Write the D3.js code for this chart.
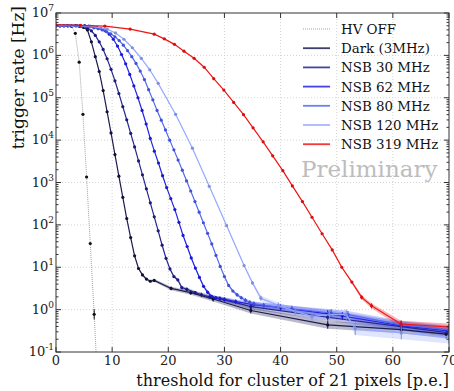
<!DOCTYPE html>
<html>
<head>
<meta charset="utf-8">
<script src="https://cdn.jsdelivr.net/npm/d3@7"></script>
<style>
  body { margin: 0; background: #fff; }
  svg { display: block; font-family: "DejaVu Serif", serif; }
</style>
</head>
<body>
<svg id="chart" width="454" height="391"></svg>
<script>
// Trigger rate vs cluster threshold, one curve per NSB level
// Each point: [threshold p.e., log10 rate in Hz, error in decades]

const hvOff = [[0,6.70,0],[0.69,6.70,0],[1.38,6.70,0],[2.06,6.70,0],[2.75,6.69,0],[3.44,6.52,0],[4.13,5.84,0],[4.8,4.61,0],[5.45,3.13,0.01],[6.1,1.56,0.03],[6.8,-0.11,0.12],[7.45,-1.85,0.3]];

const dark = [[0,6.70,0],[0.7,6.70,0],[1.4,6.70,0],[2.1,6.70,0],[2.8,6.70,0],[3.5,6.70,0],[4.2,6.69,0],[4.9,6.66,0],[5.6,6.60,0],[6.3,6.32,0],[7.0,5.97,0],[7.7,5.62,0],[8.4,5.17,0],[9.1,4.67,0],[9.8,4.17,0],[10.5,3.66,0],[11.2,3.15,0],[11.9,2.65,0],[12.6,2.15,0],[13.3,1.70,0.01],[14.0,1.27,0.02],[14.7,0.97,0.02],[15.4,0.82,0.03],[16.1,0.72,0.03],[16.8,0.67,0.03],[17.5,0.69,0.03],[20.5,0.50,0.04],[24.0,0.40,0.05],[28.0,0.25,0.06],[34.7,-0.02,0.07],[48.4,-0.36,0.09],[61.5,-0.47,0.09],[69.5,-0.58,0.10]];

const nsb30 = [[0,6.70,0],[0.7,6.70,0],[1.4,6.70,0],[2.1,6.70,0],[2.8,6.70,0],[3.5,6.70,0],[4.2,6.69,0],[4.9,6.68,0],[5.6,6.64,0],[6.3,6.58,0],[7.0,6.47,0],[7.7,6.32,0],[8.4,6.14,0],[9.1,5.92,0],[9.8,5.67,0],[10.5,5.40,0],[11.2,5.10,0],[11.9,4.79,0],[12.6,4.48,0],[13.3,4.16,0],[14.0,3.84,0],[14.7,3.51,0],[15.4,3.18,0],[16.1,2.85,0],[16.8,2.52,0],[17.5,2.19,0],[18.2,1.86,0.01],[18.9,1.52,0.01],[19.6,1.21,0.02],[20.3,0.96,0.02],[21.0,0.78,0.03],[21.7,0.70,0.03],[22.4,0.52,0.04],[23.3,0.48,0.04],[24.8,0.40,0.04],[25.9,0.35,0.05],[27.4,0.30,0.05],[29.2,0.26,0.05],[34.7,0.07,0.06],[48.4,-0.18,0.08],[61.5,-0.40,0.09],[70,-0.55,0.10]];

const nsb62 = [[0,6.70,0],[0.73,6.70,0],[1.46,6.70,0],[2.19,6.70,0],[2.92,6.70,0],[3.65,6.70,0],[4.38,6.70,0],[5.11,6.70,0],[5.84,6.69,0],[6.57,6.68,0],[7.3,6.66,0],[8.03,6.63,0],[8.76,6.58,0],[9.49,6.50,0],[10.22,6.38,0],[10.95,6.22,0],[11.68,6.02,0],[12.41,5.80,0],[13.14,5.55,0],[13.87,5.28,0],[14.6,5.00,0],[15.33,4.70,0],[16.06,4.38,0],[16.79,4.04,0],[17.52,3.74,0],[18.25,3.46,0],[18.98,3.16,0],[19.71,2.88,0],[20.44,2.62,0],[21.17,2.36,0],[21.9,2.06,0],[22.63,1.75,0.01],[23.36,1.49,0.01],[24.09,1.22,0.02],[24.82,0.98,0.02],[25.55,0.76,0.03],[26.28,0.55,0.03],[27.01,0.41,0.04],[27.74,0.31,0.04],[28.47,0.28,0.04],[30.0,0.24,0.05],[32.0,0.19,0.05],[35.2,0.12,0.06],[40.0,0.05,0.07],[48.4,-0.10,0.09],[51.0,-0.15,0.09],[61.5,-0.38,0.10],[70,-0.50,0.11]];

const nsb80 = [[0,6.70,0],[0.75,6.70,0],[1.5,6.70,0],[2.25,6.70,0],[3.0,6.70,0],[3.75,6.70,0],[4.5,6.69,0],[5.25,6.68,0],[6.0,6.67,0],[6.75,6.65,0],[7.5,6.63,0],[8.25,6.60,0],[9.0,6.56,0],[9.75,6.51,0],[10.5,6.44,0],[11.25,6.35,0],[12.0,6.24,0],[12.75,6.11,0],[13.5,5.97,0],[14.25,5.81,0],[15.0,5.63,0],[15.75,5.43,0],[16.5,5.19,0],[17.25,4.95,0],[18.0,4.70,0],[18.75,4.47,0],[19.5,4.24,0],[20.25,4.00,0],[21.0,3.77,0],[21.75,3.53,0],[22.5,3.29,0],[23.25,3.04,0],[24.0,2.80,0],[24.75,2.55,0],[25.5,2.30,0],[26.25,2.05,0],[27.0,1.80,0],[27.75,1.55,0.01],[28.5,1.28,0.01],[29.25,1.02,0.02],[30.0,0.78,0.02],[30.75,0.57,0.03],[31.5,0.44,0.03],[32.25,0.35,0.04],[33.0,0.28,0.04],[33.75,0.22,0.05],[34.5,0.17,0.05],[35.25,0.14,0.05],[37.0,0.10,0.06],[42.0,0.02,0.07],[49.0,-0.08,0.09],[52.0,-0.12,0.09],[61.5,-0.36,0.10],[70,-0.48,0.11]];

const nsb120 = [[0,6.70,0],[3.0,6.70,0],[6.1,6.69,0],[9.1,6.62,0],[10.6,6.53,0],[12.1,6.38,0],[13.6,6.18,0],[15.2,5.93,0],[16.7,5.66,0],[18.2,5.34,0],[21.3,4.61,0],[24.3,3.81,0],[27.3,2.91,0],[30.4,1.98,0.01],[33.5,1.04,0.03],[35.0,0.63,0.04],[36.5,0.27,0.06],[39.6,0.10,0.07],[42.6,-0.04,0.08],[45.6,-0.16,0.10],[48.7,-0.12,0.11],[51.7,-0.12,0.12],[53.3,-0.45,0.15],[61.5,-0.55,0.15],[70,-0.65,0.15]];

const nsb319 = [[0,6.72,0],[4.3,6.71,0],[8.7,6.69,0],[13.2,6.62,0],[17.5,6.50,0],[19.3,6.39,0],[21.1,6.26,0],[22.8,6.10,0],[24.6,5.93,0],[26.4,5.72,0],[28.1,5.45,0],[29.9,5.18,0],[31.65,4.89,0],[33.4,4.60,0],[35.1,4.29,0],[36.9,3.96,0],[38.6,3.63,0],[40.4,3.28,0],[42.1,2.92,0],[43.9,2.55,0],[45.6,2.18,0],[47.4,1.79,0],[49.2,1.41,0.01],[50.9,1.00,0.02],[52.7,0.65,0.03],[54.45,0.29,0.05],[56.2,0.09,0.06],[61.45,-0.34,0.08],[70,-0.41,0.08]];

const seriesNames = ["HV OFF", "Dark (3MHz)", "NSB 30 MHz", "NSB 62 MHz", "NSB 80 MHz", "NSB 120 MHz", "NSB 319 MHz"];
const seriesData = [hvOff, dark, nsb30, nsb62, nsb80, nsb120, nsb319];

const xTicks = [0, 10, 20, 30, 40, 50, 60, 70];
const yExponents = [-1, 0, 1, 2, 3, 4, 5, 6, 7];

const width = 454, height = 391;
const margin = {top: 13, right: 5, bottom: 39, left: 56};

const svg = d3.select("#chart");

const x = d3.scaleLinear()
  .domain([0, 70])
  .range([margin.left, width - margin.right]);

const y = d3.scaleLog()
  .domain([1e-1, 1e7])
  .range([height - margin.bottom, margin.top]);

const color = d3.scaleOrdinal()
  .domain(seriesNames)
  .range(["#8a8a8a", "#1c1c50", "#26268f", "#2222e6", "#5468f2", "#95a8ff", "#f21414"]);

const markerColor = d3.scaleOrdinal()
  .domain(seriesNames)
  .range(["#111111", "#111133", "#1a1a80", "#1a1ad0", "#4050d8", "#7f90d8", "#d80f0f"]);

const toRate = v => Math.pow(10, v);

// clip to plot area
svg.append("clipPath").attr("id", "plotClip")
  .append("rect")
  .attr("x", margin.left).attr("y", margin.top)
  .attr("width", width - margin.left - margin.right)
  .attr("height", height - margin.top - margin.bottom);

// Grid
const grid = svg.append("g");
grid.selectAll(".gx")
  .data(xTicks.slice(1, -1))
  .join("line")
  .attr("x1", d => x(d)).attr("x2", d => x(d))
  .attr("y1", margin.top).attr("y2", height - margin.bottom)
  .attr("stroke", "#c8c8c8").attr("stroke-width", 0.8)
  .attr("stroke-dasharray", "1,2");
grid.selectAll(".gy")
  .data(yExponents.slice(1, -1))
  .join("line")
  .attr("x1", margin.left).attr("x2", width - margin.right)
  .attr("y1", d => y(toRate(d))).attr("y2", d => y(toRate(d)))
  .attr("stroke", "#c8c8c8").attr("stroke-width", 0.8)
  .attr("stroke-dasharray", "1,2");

const plot = svg.append("g").attr("clip-path", "url(#plotClip)");

const band = d3.area()
  .x(d => x(d[0]))
  .y0(d => y(toRate(d[1] - d[2])))
  .y1(d => y(toRate(d[1] + d[2])));

const line = d3.line()
  .x(d => x(d[0]))
  .y(d => y(toRate(d[1])));

// Error bands
seriesData.forEach((data, i) => {
  plot.append("path")
    .datum(data)
    .attr("fill", color(seriesNames[i]))
    .attr("fill-opacity", i === 0 ? 0 : 0.3)
    .attr("d", band);
});

// Lines, error bars and points
seriesData.forEach((data, i) => {
  const name = seriesNames[i];
  plot.append("path")
    .datum(data)
    .attr("fill", "none")
    .attr("stroke", color(name))
    .attr("stroke-width", i === 0 ? 0.8 : 1.2)
    .attr("stroke-dasharray", i === 0 ? "1,1" : null)
    .attr("d", line);

  plot.append("g").selectAll("line")
    .data(data.filter(d => d[2] > 0.03))
    .join("line")
    .attr("x1", d => x(d[0])).attr("x2", d => x(d[0]))
    .attr("y1", d => y(toRate(d[1] - d[2])))
    .attr("y2", d => y(toRate(d[1] + d[2])))
    .attr("stroke", markerColor(name))
    .attr("stroke-width", 1);

  plot.append("g").selectAll("circle")
    .data(data)
    .join("circle")
    .attr("cx", d => x(d[0]))
    .attr("cy", d => y(toRate(d[1])))
    .attr("r", 1.6)
    .attr("fill", markerColor(name));
});

// Frame
svg.append("rect")
  .attr("x", margin.left).attr("y", margin.top)
  .attr("width", width - margin.left - margin.right)
  .attr("height", height - margin.top - margin.bottom)
  .attr("fill", "none")
  .attr("stroke", "#333")
  .attr("stroke-width", 1);

// Inward ticks
const ticks = svg.append("g").attr("stroke", "#333").attr("stroke-width", 1);
xTicks.forEach(t => {
  ticks.append("line").attr("x1", x(t)).attr("x2", x(t))
    .attr("y1", height - margin.bottom).attr("y2", height - margin.bottom - 5);
  ticks.append("line").attr("x1", x(t)).attr("x2", x(t))
    .attr("y1", margin.top).attr("y2", margin.top + 5);
});
yExponents.forEach(e => {
  const yy = y(toRate(e));
  ticks.append("line").attr("x1", margin.left).attr("x2", margin.left + 5).attr("y1", yy).attr("y2", yy);
  ticks.append("line").attr("x1", width - margin.right).attr("x2", width - margin.right - 5).attr("y1", yy).attr("y2", yy);
  if (e < 7) {
    d3.range(2, 10).forEach(m => {
      const ym = y(m * toRate(e));
      ticks.append("line").attr("x1", margin.left).attr("x2", margin.left + 2.5).attr("y1", ym).attr("y2", ym);
      ticks.append("line").attr("x1", width - margin.right).attr("x2", width - margin.right - 2.5).attr("y1", ym).attr("y2", ym);
    });
  }
});

// X tick labels (the last one is cut by the edge, as in the original)
svg.append("g").selectAll("text")
  .data(xTicks)
  .join("text")
  .attr("x", d => x(d))
  .attr("y", height - margin.bottom + 13)
  .attr("text-anchor", "middle")
  .style("font-size", "13px")
  .style("fill", "#222")
  .text(d => d);

// Y tick labels with superscript exponent
const yl = svg.append("g").selectAll("text")
  .data(yExponents)
  .join("text")
  .attr("x", margin.left - 2)
  .attr("y", d => y(toRate(d)) + 4)
  .attr("text-anchor", "end")
  .style("font-size", "13px")
  .style("fill", "#222");
yl.append("tspan").text("10");
yl.append("tspan")
  .attr("dy", -6)
  .style("font-size", "9px")
  .text(d => d);

// Axis labels
svg.append("text")
  .attr("x", width - margin.right)
  .attr("y", height - 5)
  .attr("text-anchor", "end")
  .style("font-size", "16px")
  .style("fill", "#111")
  .text("threshold for cluster of 21 pixels [p.e.]");

svg.append("text")
  .attr("transform", "rotate(-90)")
  .attr("x", -6)
  .attr("y", 24)
  .attr("text-anchor", "end")
  .style("font-size", "17px")
  .style("fill", "#111")
  .text("trigger rate [Hz]");

// Legend
const legend = svg.append("g").attr("transform", "translate(303, 29)");
seriesNames.forEach((name, i) => {
  const row = legend.append("g").attr("transform", `translate(0, ${i * 19.2})`);
  row.append("line")
    .attr("x1", 0).attr("x2", 27)
    .attr("stroke", color(name))
    .attr("stroke-opacity", i === 0 ? 1 : 0.85)
    .attr("stroke-width", i === 0 ? 0.8 : 1.8)
    .attr("stroke-dasharray", i === 0 ? "1,1" : null);
  row.append("text")
    .attr("x", 38)
    .attr("y", 5)
    .style("font-size", "13.4px")
    .style("fill", "#111")
    .text(name);
});

svg.append("text")
  .attr("x", 301)
  .attr("y", 177)
  .style("font-size", "23px")
  .style("fill", "#bdbdbd")
  .text("Preliminary");
</script>
</body>
</html>
